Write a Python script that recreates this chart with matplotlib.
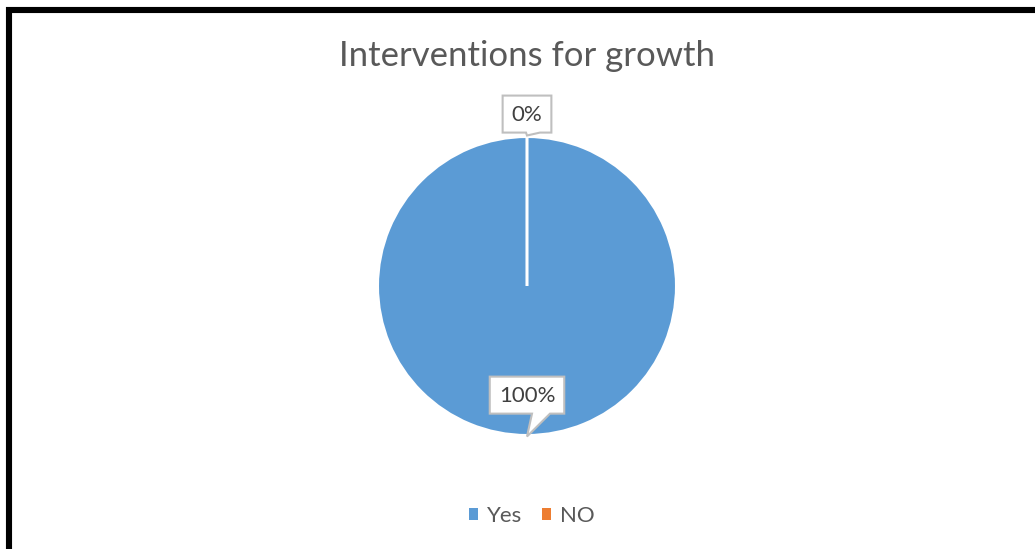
import numpy as np
import matplotlib.pyplot as plt
from matplotlib.patches import Polygon, Rectangle, Patch

# chart data
categories = ['Yes', 'NO']
values = [100, 0]
colors = ['#5B9BD5', '#ED7D31']
title = 'Interventions for growth'

W, H, DPI = 1035, 549, 100
fig = plt.figure(figsize=(W / DPI, H / DPI), dpi=DPI)
fig.patch.set_facecolor('white')

# pie placed by pixel centre and radius
cx, cy, r = 527, 286, 149.5
ax = fig.add_axes([(cx - r) / W, (H - cy - r) / H, 2 * r / W, 2 * r / H])
wedges, _ = ax.pie(values, colors=colors, startangle=90, counterclock=False,
                   wedgeprops=dict(edgecolor='white', linewidth=2.2))
ax.set_xlim(-1, 1)
ax.set_ylim(-1, 1)
ax.axis('off')

fig.text(cx / W, 1 - 56 / H, title, ha='center', va='center',
         fontsize=25, color='#595959', family='Lato')

# percentage callouts
total = sum(values)
px = 1.0 / r  # one pixel in data units
label_radius = [0.73, 1.15]
fig.canvas.draw()
renderer = fig.canvas.get_renderer()
cum = 0
for i, v in enumerate(values):
    ang = np.deg2rad(90 - 360 * (cum + v / 2) / total)
    cum += v
    tip = np.array([np.cos(ang), np.sin(ang)])
    centre = tip * label_radius[i]
    txt = ax.text(centre[0], centre[1] - 1 * px, f'{v / total:.0%}', ha='center', va='center',
                  fontsize=16, color='#404040', family='Lato', zorder=5, clip_on=False)
    bb = txt.get_window_extent(renderer)
    hw = (bb.width / 2 + 9) * px
    hh = 18.5 * px
    x0, x1 = centre[0] - hw, centre[0] + hw
    y0, y1 = centre[1] - hh, centre[1] + hh
    tipx, tipy = tip[0], tip[1] + (1 * px if tip[1] > 0 else -1 * px)
    if tip[1] > 0:
        base = [(tipx - 1 * px, y0), (tipx + 13 * px, y0)]
    else:
        base = [(tipx + 5 * px, y0), (tipx + 23 * px, y0)]
    pts = [(x0, y0), base[0], (tipx, tipy), base[1], (x1, y0), (x1, y1), (x0, y1)]
    ax.add_patch(Polygon(pts, closed=True, facecolor='white', edgecolor='#BFBFBF',
                         linewidth=1.5, zorder=4, clip_on=False))

# legend
handles = [Patch(facecolor=c, edgecolor='none') for c in colors]
fig.legend(handles, categories, loc='center', bbox_to_anchor=(532 / W, 1 - 516 / H),
           ncol=2, frameon=False, handlelength=0.4, handleheight=0.4,
           handletextpad=0.4, columnspacing=0.9, labelcolor='#595959',
           prop=dict(family='Lato', size=16))

# black frame running off the right and bottom edges
fig.add_artist(Rectangle((9 / W, -0.1), 1.2, 1.1 - 10 / H, transform=fig.transFigure,
                         fill=False, edgecolor='black', linewidth=4.4))

fig.savefig('out.png', dpi=DPI)
